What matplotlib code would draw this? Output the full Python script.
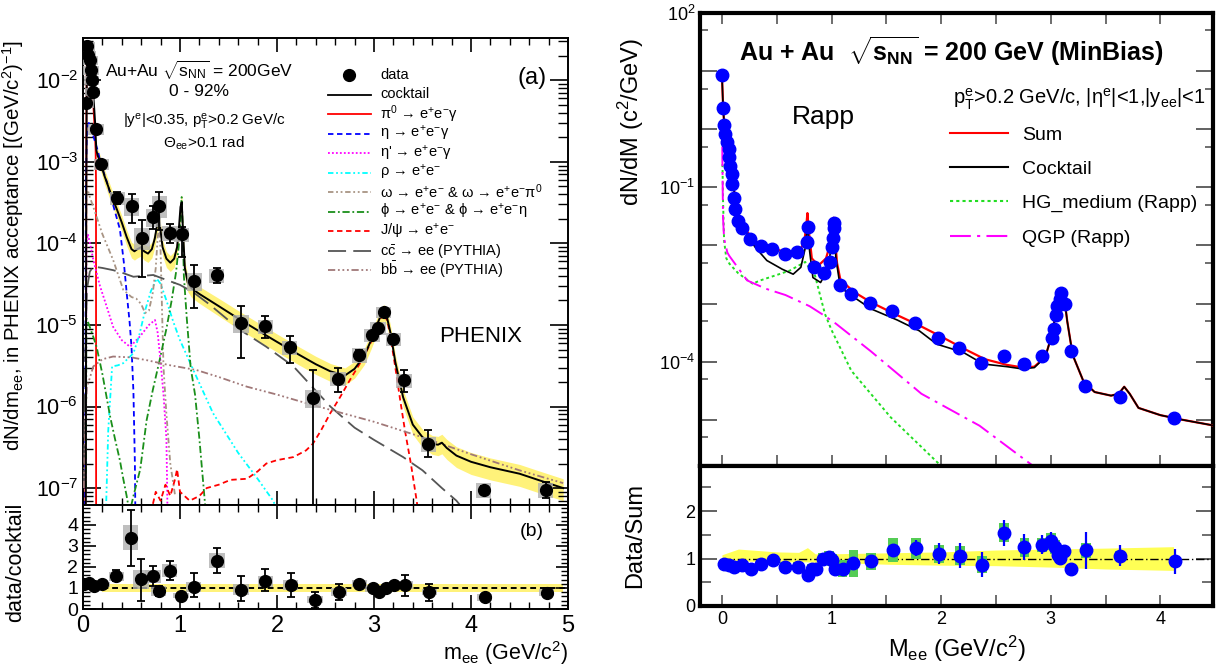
import numpy as np
import matplotlib
matplotlib.use('Agg')
import matplotlib.pyplot as plt
from matplotlib.ticker import FuncFormatter, MultipleLocator, LogLocator, NullFormatter
from matplotlib.lines import Line2D
from matplotlib.patches import Rectangle

plt.rcParams['font.family'] = ['Liberation Sans', 'DejaVu Sans']
plt.rcParams['mathtext.fontset'] = 'custom'
plt.rcParams['mathtext.rm'] = 'Liberation Sans'
plt.rcParams['mathtext.it'] = 'Liberation Sans:italic'
plt.rcParams['mathtext.bf'] = 'Liberation Sans:bold'

# ---------------- LEFT PANEL DATA (PHENIX) ----------------
phx_m = [0.035, 0.045, 0.055, 0.07, 0.085, 0.09, 0.10, 0.135, 0.19, 0.354, 0.50, 0.61, 0.725, 0.787,
         0.897, 1.017, 1.148, 1.378, 1.63, 1.88, 2.13, 2.37, 2.63, 2.85, 2.98, 3.04, 3.1, 3.2, 3.31,
         3.56, 4.13, 4.77]
phx_y = [5.2e-3, 2.6e-2, 2.05e-2, 1.76e-2, 1.32e-2, 1.0e-2, 7.2e-3, 2.5e-3, 9.3e-4, 3.6e-4, 2.9e-4,
         1.18e-4, 2.1e-4, 2.9e-4, 1.35e-4, 1.29e-4, 3.5e-5, 4.1e-5, 1.07e-5, 9.6e-6, 5.3e-6, 1.28e-6,
         2.2e-6, 4.3e-6, 7.6e-6, 9.3e-6, 1.45e-5, 6.8e-6, 2.1e-6, 3.5e-7, 9.5e-8, 9.5e-8]
phx_lo = [5.0e-3, 2.5e-2, 1.95e-2, 1.68e-2, 1.26e-2, 0.95e-2, 6.9e-3, 2.4e-3, 8.9e-4, 3.0e-4, 1.8e-4,
          3.9e-5, 1.5e-4, 1.45e-4, 1.0e-4, 6.9e-5, 1.6e-5, 3.3e-5, 3.9e-6, 7.0e-6, 3.4e-6, 1e-9,
          1.5e-6, 3.8e-6, 7.0e-6, 8.7e-6, 1.38e-5, 6.0e-6, 1.5e-6, 2.4e-7, 8.5e-8, 7.5e-8]
phx_hi = [5.4e-3, 2.7e-2, 2.15e-2, 1.84e-2, 1.38e-2, 1.05e-2, 7.5e-3, 2.6e-3, 9.7e-4, 4.3e-4, 4.0e-4,
          1.95e-4, 2.9e-4, 4.3e-4, 1.75e-4, 1.6e-4, 5.4e-5, 5.0e-5, 1.7e-5, 1.3e-5, 7.3e-6, 2.8e-6,
          3.0e-6, 4.9e-6, 8.2e-6, 9.9e-6, 1.52e-5, 7.6e-6, 2.8e-6, 5.2e-7, 1.05e-7, 1.2e-7]
phx_sys = [0.12, 0.12, 0.12, 0.12, 0.12, 0.12, 0.12, 0.15, 0.15, 0.18, 0.25, 0.3, 0.25, 0.3,
           0.2, 0.2, 0.25, 0.2, 0.25, 0.2, 0.2, 0.25, 0.2, 0.2, 0.18, 0.18, 0.15, 0.18, 0.2,
           0.22, 0.2, 0.2]

ratio_m = [0.008, 0.066, 0.116, 0.2, 0.343, 0.49, 0.6, 0.72, 0.78, 0.894, 1.01, 1.14, 1.38, 1.63,
           1.88, 2.14, 2.39, 2.64, 2.85, 2.99, 3.05, 3.12, 3.21, 3.32, 3.57, 4.14, 4.78]
ratio_y = [1.18, 1.25, 1.09, 1.18, 1.55, 3.4, 1.41, 1.55, 0.85, 1.82, 0.62, 1.05, 2.3, 0.92,
           1.32, 1.14, 0.45, 0.8, 1.21, 0.98, 0.8, 0.98, 1.13, 1.13, 0.8, 0.55, 0.78]
ratio_lo = [1.08, 1.18, 1.0, 1.1, 1.35, 2.05, 0.4, 1.1, 0.6, 1.4, 0.55, 0.55, 1.7, 0.4,
            0.86, 0.55, 0.05, 0.45, 1.12, 0.9, 0.74, 0.9, 0.98, 0.6, 0.4, 0.47, 0.58]
ratio_hi = [1.28, 1.32, 1.18, 1.26, 1.88, 4.7, 2.4, 2.05, 1.1, 2.3, 0.7, 1.7, 2.9, 1.55,
            1.9, 1.7, 0.82, 1.2, 1.3, 1.06, 0.86, 1.06, 1.3, 1.6, 1.2, 0.63, 1.0]
ratio_sys = [0.12, 0.12, 0.12, 0.12, 0.2, 0.6, 0.45, 0.3, 0.25, 0.3, 0.12, 0.25, 0.35, 0.25,
             0.25, 0.25, 0.15, 0.2, 0.18, 0.15, 0.12, 0.12, 0.15, 0.18, 0.15, 0.15, 0.15]

# cocktail components
cock_m = [0.028, 0.033, 0.038, 0.045, 0.055, 0.065, 0.075, 0.085, 0.095, 0.105, 0.115, 0.125, 0.132,
          0.138, 0.15, 0.17, 0.19, 0.22, 0.26, 0.3, 0.35, 0.4, 0.45, 0.5, 0.53, 0.56, 0.6, 0.63, 0.67,
          0.71, 0.74, 0.765, 0.78, 0.795, 0.82, 0.86, 0.9, 0.94, 0.97, 0.99, 1.005, 1.018, 1.03, 1.05,
          1.08, 1.12, 1.2, 1.4, 1.6, 1.8, 2.0, 2.2, 2.4, 2.55, 2.7, 2.8, 2.9, 2.97, 3.03, 3.07, 3.1,
          3.13, 3.17, 3.22, 3.3, 3.4, 3.5, 3.6, 3.66, 3.7, 3.75, 3.85, 4.0, 4.2, 4.5, 4.7, 4.95]
cock_y = [1e-8, 2e-4, 8e-3, 0.026, 0.027, 0.022, 0.017, 0.013, 0.0095, 0.0068, 0.0046, 0.003, 0.0019,
          0.0014, 0.0012, 0.00105, 0.0009, 0.00068, 0.0005, 0.00037, 0.00026, 0.00018, 0.00012, 8.5e-5,
          8e-5, 8.5e-5, 9e-5, 8e-5, 7.5e-5, 8.5e-5, 1.15e-4, 1.7e-4, 2.0e-4, 1.6e-4, 9e-5, 6.5e-5,
          5.8e-5, 6.5e-5, 9e-5, 1.6e-4, 2.8e-4, 3.2e-4, 1.5e-4, 5e-5, 3.3e-5, 2.8e-5, 2.4e-5, 1.7e-5,
          1.2e-5, 8.6e-6, 6.2e-6, 4.5e-6, 3.3e-6, 2.7e-6, 2.4e-6, 2.9e-6, 4.2e-6, 6.5e-6, 1.0e-5,
          1.3e-5, 1.45e-5, 1.3e-5, 8e-6, 3.5e-6, 1.3e-6, 6e-7, 4.2e-7, 3.5e-7, 3.4e-7, 3.6e-7, 3.1e-7,
          2.5e-7, 2.1e-7, 1.8e-7, 1.5e-7, 1.25e-7, 1.0e-7]
cock_band_m = [0.15, 0.5, 1.0, 1.5, 2.0, 2.5, 3.0, 3.5, 4.0, 4.5, 4.95]
cock_band_rel = [0.2, 0.22, 0.22, 0.25, 0.25, 0.25, 0.22, 0.25, 0.3, 0.3, 0.3]

pi0_m = [0.02, 0.03, 0.035, 0.04, 0.05, 0.06, 0.07, 0.08, 0.09, 0.1, 0.11, 0.12, 0.13, 0.134, 0.1355]
pi0_y = [1e-8, 1e-6, 3e-3, 0.024, 0.025, 0.02, 0.016, 0.012, 0.0095, 0.0065, 0.0042, 0.0026, 0.0014,
         6e-4, 1e-8]
eta_m = [0.02, 0.03, 0.04, 0.06, 0.1, 0.15, 0.19, 0.25, 0.3, 0.35, 0.38, 0.42, 0.45, 0.48, 0.5,
         0.52, 0.535, 0.545]
eta_y = [1e-8, 5e-4, 2.5e-3, 3e-3, 2.2e-3, 1.4e-3, 9e-4, 5.5e-4, 3.3e-4, 2e-4, 1.5e-4, 6e-5,
         2.5e-5, 1.1e-5, 5.4e-6, 1.5e-6, 2e-7, 1e-8]
etap_m = [0.03, 0.035, 0.05, 0.08, 0.106, 0.175, 0.25, 0.31, 0.4, 0.485, 0.59, 0.68, 0.742, 0.77,
          0.8, 0.83, 0.86, 0.88]
etap_y = [1e-7, 1e-4, 1.3e-4, 9e-5, 6.3e-5, 3e-5, 1.6e-5, 9.5e-6, 6.5e-6, 5.4e-6, 7.3e-6, 1e-5,
          1.15e-5, 8e-6, 3.5e-6, 1.4e-6, 4e-7, 1e-8]
rho_m = [0.22, 0.26, 0.3, 0.36, 0.415, 0.52, 0.58, 0.64, 0.7, 0.76, 0.8, 0.86, 0.93, 1.0, 1.15,
         1.34, 1.6, 1.8, 1.96, 2.05]
rho_y = [1e-8, 5e-7, 3.1e-6, 3.2e-6, 3.4e-6, 4.5e-6, 7.5e-6, 1.5e-5, 2.6e-5, 3.7e-5, 3.2e-5, 2e-5,
         1.1e-5, 6.5e-6, 2.6e-6, 8.3e-7, 2.7e-7, 1.3e-7, 7e-8, 4e-8]
omega_m = [0.03, 0.035, 0.05, 0.07, 0.106, 0.2, 0.31, 0.415, 0.5, 0.55, 0.6, 0.64, 0.68, 0.72, 0.75,
           0.77, 0.785, 0.8, 0.815, 0.83, 0.86, 0.9, 0.95]
omega_y = [1e-7, 4e-4, 4.5e-4, 3.7e-4, 2.8e-4, 1.3e-4, 6.3e-5, 2.7e-5, 2.2e-5, 2.1e-5, 1.8e-5,
           1.4e-5, 1.5e-5, 2.5e-5, 5e-5, 1.2e-4, 1.6e-4, 8e-5, 1.5e-5, 3e-6, 8e-7, 2e-7, 8e-8]
phi_m = [0.03, 0.035, 0.05, 0.1, 0.14, 0.2, 0.28, 0.33, 0.38, 0.415, 0.45, 0.48, 0.52, 0.59, 0.656,
         0.72, 0.79, 0.86, 0.914, 0.96, 0.99, 1.005, 1.017, 1.025, 1.04, 1.07, 1.11, 1.155, 1.2, 1.26]
phi_y = [1e-7, 1.2e-5, 1.1e-5, 7.5e-6, 5.4e-6, 2.5e-6, 7.5e-7, 4e-7, 2.2e-7, 1.3e-7, 8e-8, 5e-8,
         8e-8, 1.7e-7, 6.8e-7, 1.6e-6, 3.7e-6, 9e-6, 2e-5, 4.5e-5, 1e-4, 2e-4, 3.7e-4, 2e-4, 4e-5,
         1.2e-5, 3e-6, 1.4e-6, 4e-7, 6e-8]
jpsi_m = [0.7, 0.75, 0.8, 0.85, 0.9, 0.95, 0.97, 1.0, 1.1, 1.2, 1.275, 1.4, 1.52, 1.69, 1.8, 1.89,
          2.0, 2.17, 2.3, 2.37, 2.45, 2.55, 2.65, 2.75, 2.85, 2.95, 3.0, 3.05, 3.1, 3.14, 3.18, 3.22,
          3.27, 3.32, 3.38, 3.44, 3.48]
jpsi_y = [5e-8, 9e-8, 7e-8, 1.1e-7, 8e-8, 1.3e-7, 1.7e-7, 9e-8, 7e-8, 8e-8, 1e-7, 1.1e-7, 1.26e-7,
          1.3e-7, 1.6e-7, 2e-7, 2.2e-7, 2.4e-7, 2.9e-7, 3.5e-7, 5e-7, 8.3e-7, 1.3e-6, 2.1e-6, 3.3e-6,
          5.5e-6, 7.5e-6, 1.1e-5, 1.4e-5, 1.1e-5, 6e-6, 3e-6, 1.2e-6, 5e-7, 2e-7, 7e-8, 3e-8]
ccbar_m = [0.01, 0.02, 0.04, 0.07, 0.106, 0.2, 0.31, 0.42, 0.52, 0.62, 0.725, 0.85, 1.0, 1.14, 1.3,
           1.62, 1.89, 2.17, 2.55, 2.8, 3.0, 3.3, 3.5, 3.7, 3.85, 3.95]
ccbar_y = [1e-7, 3e-6, 2.7e-5, 4.5e-5, 5.2e-5, 5e-5, 4.7e-5, 4.3e-5, 3.9e-5, 4e-5, 4.1e-5, 3.6e-5,
           3.1e-5, 2.5e-5, 1.8e-5, 8.7e-6, 5.4e-6, 3.1e-6, 1e-6, 5.5e-7, 3.9e-7, 2.4e-7, 1.65e-7,
           1e-7, 7e-8, 5e-8]
bbbar_m = [0.01, 0.02, 0.04, 0.106, 0.2, 0.31, 0.5, 0.656, 0.9, 1.17, 1.4, 1.69, 2.0, 2.3, 2.55, 3.0,
           3.5, 4.0, 4.5, 4.95]
bbbar_y = [1e-7, 5e-7, 1.7e-6, 3.1e-6, 3.8e-6, 4.1e-6, 4e-6, 3.7e-6, 3.2e-6, 2.8e-6, 2.3e-6,
           1.75e-6, 1.4e-6, 1.1e-6, 9.1e-7, 6.5e-7, 4.2e-7, 2.6e-7, 1.65e-7, 1.15e-7]

# ---------------- RIGHT PANEL DATA (Rapp comparison) ----------------
rd_m = [0.0, 0.011, 0.018, 0.032, 0.046, 0.06, 0.067, 0.078, 0.088, 0.095, 0.106, 0.117, 0.148,
        0.187, 0.254, 0.353, 0.456, 0.572, 0.689, 0.774, 0.781, 0.84, 0.929, 0.982, 1.0, 1.014,
        1.021, 1.025, 1.078, 1.18, 1.35, 1.55, 1.76, 1.975, 2.16, 2.36, 2.57, 2.76, 2.92, 3.01,
        3.025, 3.05, 3.06, 3.08, 3.095, 3.13, 3.18, 3.31, 3.63, 4.12]
rd_y = [8.5, 2.35, 1.2, 0.83, 0.6, 0.46, 0.33, 0.23, 0.168, 0.112, 0.066, 0.043, 0.026, 0.020,
        0.0131, 0.0099, 0.0088, 0.0071, 0.0076, 0.0114, 0.021, 0.0043, 0.0034, 0.0051, 0.0095,
        0.0135, 0.0245, 0.020, 0.0021, 0.00146, 0.00102, 0.00073, 0.00046, 0.00026, 0.000172,
        9.5e-5, 1.27e-4, 9.1e-5, 1.27e-4, 2.6e-4, 3.7e-4, 6.4e-4, 9.2e-4, 1.2e-3, 1.5e-3, 9.8e-4,
        1.5e-4, 3.8e-5, 2.5e-5, 1.07e-5]
rd_sys = [0.06] * 28 + [0.12, 0.2, 0.15, 0.2, 0.18, 0.15, 0.18, 0.15, 0.12, 0.12, 0.1, 0.1,
                         0.1, 0.1, 0.1, 0.1, 0.1, 0.1, 0.1, 0.1, 0.1, 0.1]

sum_m = [0.0, 0.01, 0.02, 0.03, 0.05, 0.07, 0.09, 0.11, 0.13, 0.15, 0.2, 0.3, 0.4, 0.5, 0.6, 0.7,
         0.75, 0.77, 0.78, 0.79, 0.82, 0.88, 0.95, 0.99, 1.01, 1.02, 1.03, 1.05, 1.08, 1.2, 1.36, 1.6,
         1.8, 2.0, 2.2, 2.4, 2.6, 2.75, 2.85, 2.95, 3.0, 3.05, 3.08, 3.1, 3.12, 3.15, 3.2, 3.3, 3.4,
         3.55, 3.62, 3.67, 3.72, 3.8, 4.0, 4.2, 4.48]
sum_y = [9.0, 2.6, 1.25, 0.85, 0.5, 0.28, 0.17, 0.09, 0.05, 0.03, 0.02, 0.012, 0.0095, 0.0085,
         0.0075, 0.0078, 0.011, 0.022, 0.036, 0.02, 0.006, 0.0045, 0.006, 0.011, 0.022, 0.03, 0.015,
         0.005, 0.0026, 0.0016, 0.00105, 0.00063, 0.00042, 0.00027, 0.00017, 0.00011, 8.8e-5,
         7.9e-5, 8.2e-5, 1.2e-4, 2.5e-4, 7e-4, 1.3e-3, 1.6e-3, 1.4e-3, 5e-4, 1.3e-4, 4.5e-5, 3.0e-5,
         2.6e-5, 2.8e-5, 3.7e-5, 2.8e-5, 1.6e-5, 1.2e-5, 1e-5, 8e-6]
cockR_m = [0.0, 0.01, 0.02, 0.03, 0.05, 0.07, 0.09, 0.11, 0.13, 0.15, 0.2, 0.3, 0.41, 0.55, 0.65,
           0.72, 0.76, 0.78, 0.8, 0.83, 0.9, 0.97, 1.0, 1.02, 1.04, 1.08, 1.2, 1.36, 1.6, 1.8, 1.96,
           2.2, 2.385, 2.6, 2.74, 2.85, 2.95, 3.0, 3.05, 3.08, 3.1, 3.12, 3.15, 3.2, 3.3, 3.4, 3.55,
           3.62, 3.67, 3.72, 3.8, 4.0, 4.2, 4.48]
cockR_y = [9.0, 2.6, 1.25, 0.85, 0.5, 0.28, 0.17, 0.09, 0.05, 0.03, 0.019, 0.0095, 0.0055, 0.0039,
           0.0032, 0.0042, 0.009, 0.022, 0.008, 0.0028, 0.0023, 0.004, 0.011, 0.02, 0.006, 0.0019,
           0.0013, 0.00081, 0.00052, 0.00034, 0.0002, 0.000145, 9.1e-5, 8.2e-5, 7.5e-5, 7.9e-5,
           1.2e-4, 2.5e-4, 7e-4, 1.3e-3, 1.6e-3, 1.4e-3, 5e-4, 1.3e-4, 4.5e-5, 3.0e-5, 2.6e-5,
           2.8e-5, 3.7e-5, 2.8e-5, 1.6e-5, 1.2e-5, 1e-5, 8e-6]
hg_m = [0.005, 0.01, 0.02, 0.04, 0.07, 0.15, 0.28, 0.35, 0.5, 0.62, 0.7, 0.76, 0.8, 0.85, 0.94,
        1.0, 1.18, 1.54, 2.0]
hg_y = [0.25, 0.06, 0.012, 0.006, 0.0048, 0.0033, 0.0022, 0.0025, 0.0031, 0.0037, 0.0045, 0.0052,
        0.004, 0.003, 0.00066, 0.00035, 7e-5, 1.1e-5, 1.6e-6]
qgp_m = [0.003, 0.01, 0.02, 0.05, 0.07, 0.23, 0.4, 0.58, 0.8, 0.94, 1.04, 1.36, 1.82, 2.35, 2.84]
qgp_y = [0.5, 0.03, 0.013, 0.0075, 0.0065, 0.0025, 0.0018, 0.0014, 0.0009, 0.00061, 0.00045,
         0.00015, 2.8e-5, 7.9e-6, 1.6e-6]

rr_m = [0.018, 0.067, 0.113, 0.183, 0.265, 0.36, 0.462, 0.578, 0.695, 0.787, 0.825, 0.854, 0.924,
        0.977, 1.005, 1.03, 1.10, 1.20, 1.36, 1.56, 1.77, 1.98, 2.17, 2.37, 2.57, 2.76, 2.92, 3.005,
        3.04, 3.065, 3.086, 3.12, 3.18, 3.32, 3.63, 4.13]
rr_y = [0.89, 0.865, 0.83, 0.865, 0.79, 0.89, 0.97, 0.82, 0.83, 0.65, 0.79, 0.77, 1.0, 1.04, 0.97,
        0.79, 0.79, 0.9, 0.94, 1.18, 1.22, 1.1, 1.06, 0.87, 1.54, 1.24, 1.29, 1.36, 1.24, 1.08, 1.01,
        1.15, 0.78, 1.17, 1.06, 0.94]
rr_stat = [0.03, 0.03, 0.03, 0.03, 0.03, 0.04, 0.05, 0.05, 0.05, 0.06, 0.05, 0.05, 0.06, 0.06, 0.06,
           0.06, 0.06, 0.08, 0.08, 0.12, 0.17, 0.22, 0.26, 0.26, 0.28, 0.28, 0.2, 0.2, 0.12, 0.1, 0.1,
           0.1, 0.08, 0.38, 0.22, 0.26]
rr_sys = [0.06, 0.06, 0.06, 0.06, 0.06, 0.07, 0.08, 0.1, 0.1, 0.1, 0.1, 0.1, 0.12, 0.12, 0.12,
          0.12, 0.18, 0.28, 0.18, 0.25, 0.22, 0.19, 0.2, 0.18, 0.2, 0.2, 0.15, 0.17, 0.15, 0.12, 0.1,
          0.1, 0.08, 0.15, 0.1, 0.1]
rband_m = [0.0, 0.15, 0.5, 0.7, 0.78, 0.85, 1.0, 1.5, 2.0, 2.5, 3.0, 3.5, 4.12]
rband_hi = [1.08, 1.2, 1.14, 1.13, 1.23, 1.1, 1.1, 1.12, 1.14, 1.18, 1.2, 1.22, 1.25]
rband_lo = [0.95, 0.95, 0.93, 0.93, 0.93, 0.92, 0.92, 0.88, 0.86, 0.85, 0.82, 0.78, 0.75]

# ---------------- FIGURE ----------------
fig = plt.figure(figsize=(12.26, 6.66), dpi=100)
W, H = 1226.0, 666.0


def box(x0, y0, x1, y1):
    return [x0 / W, 1 - y1 / H, (x1 - x0) / W, (y1 - y0) / H]


axL = fig.add_axes(box(83, 38, 568, 505))
axLr = fig.add_axes(box(83, 505, 568, 609))
axR = fig.add_axes(box(700, 13, 1213, 466))
axRr = fig.add_axes(box(700, 466, 1213, 606))

# ---- left top ----
ax = axL
ax.set_yscale('log')
ax.set_xlim(0, 5)
ax.set_ylim(6.2e-8, 3.3e-2)
bm = np.array(cock_m)
by = np.array(cock_y)
bandrel = np.interp(bm, cock_band_m, cock_band_rel)
sel = bm >= 0.15
ax.fill_between(bm[sel], by[sel] * (1 - bandrel[sel]), by[sel] * (1 + bandrel[sel]),
                color='#fff27a', lw=0, zorder=1)
dd = (0, (3, 1.5, 1, 1.5, 1, 1.5))
styles = [
    dict(color='red', lw=1.3, ls='-'),
    dict(color='blue', lw=1.3, ls=(0, (3, 2))),
    dict(color='magenta', lw=1.3, ls=(0, (1, 1.2))),
    dict(color='cyan', lw=1.3, ls=dd),
    dict(color='#a89484', lw=1.3, ls=dd),
    dict(color='#1a8f1a', lw=1.3, ls=(0, (4, 1.5, 1, 1.5))),
    dict(color='red', lw=1.3, ls=(0, (3, 2))),
    dict(color='#555555', lw=1.3, ls=(0, (10, 4))),
    dict(color='#a07878', lw=1.3, ls=(0, (4, 1.5, 1, 1.5, 1, 1.5, 1, 1.5))),
]
curves = [(pi0_m, pi0_y), (eta_m, eta_y), (etap_m, etap_y), (rho_m, rho_y), (omega_m, omega_y),
          (phi_m, phi_y), (jpsi_m, jpsi_y), (ccbar_m, ccbar_y), (bbbar_m, bbbar_y)]
for (cm, cy), st in zip(curves, styles):
    ax.plot(cm, cy, zorder=3, **st)
ax.plot(cock_m, cock_y, color='black', lw=1.4, zorder=4)
for m, y, s in zip(phx_m, phx_y, phx_sys):
    ax.add_patch(Rectangle((m - 0.08, y * (1 - s)), 0.16, y * (1 + s) - y * (1 - s),
                           facecolor='#b0b0b0', edgecolor='none', alpha=0.8, hatch='....', zorder=5))
py = np.array(phx_y)
ax.errorbar(phx_m, phx_y, yerr=[py - np.array(phx_lo), np.array(phx_hi) - py], fmt='o',
            color='black', ms=8.5, capsize=3, elinewidth=1.3, capthick=1.3, zorder=6)
ax.yaxis.set_major_locator(LogLocator(base=10, numticks=20))
ax.yaxis.set_minor_locator(LogLocator(base=10, subs=np.arange(2, 10), numticks=20))
ax.yaxis.set_minor_formatter(NullFormatter())
ax.xaxis.set_major_locator(MultipleLocator(1))
ax.xaxis.set_minor_locator(MultipleLocator(0.2))
ax.tick_params(axis='both', which='both', direction='in', top=True, right=True, labelbottom=False)
ax.tick_params(axis='y', which='major', length=13, width=1.2, labelsize=15.5)
ax.tick_params(axis='y', which='minor', length=7, width=1.0)
ax.tick_params(axis='x', which='major', length=10, width=1.2)
ax.tick_params(axis='x', which='minor', length=5, width=1.0)
for sp in ax.spines.values():
    sp.set_linewidth(1.4)
ax.set_ylabel(r'dN/dm$_{\mathrm{ee}}$, in PHENIX acceptance [(GeV/c$^{2}$)$^{-1}$]', fontsize=14.8)
ax.yaxis.set_label_coords(-0.118, 0.555)
ax.text(0.24, 0.93, r'Au+Au $\sqrt{\mathrm{s}_{\mathrm{NN}}}$ = 200GeV', transform=ax.transAxes,
        fontsize=12.5, ha='center', va='center')
ax.text(0.24, 0.885, '0 - 92%', transform=ax.transAxes, fontsize=12.5, ha='center', va='center')
ax.text(0.25, 0.82, r'|y$^{\mathrm{e}}$|<0.35, p$_{\mathrm{T}}^{\mathrm{e}}$>0.2 GeV/c',
        transform=ax.transAxes, fontsize=11, ha='center', va='center')
ax.text(0.25, 0.775, r'$\Theta_{\mathrm{ee}}$>0.1 rad', transform=ax.transAxes, fontsize=11,
        ha='center', va='center')
ax.text(0.925, 0.915, '(a)', transform=ax.transAxes, fontsize=17, ha='center', va='center')
ax.text(0.82, 0.36, 'PHENIX', transform=ax.transAxes, fontsize=16, ha='center', va='center')

# manual legend (fixed row pitch like the original)
labels = ['data', 'cocktail', r'π$^{0}$ → e$^{+}$e$^{-}$γ', r'η → e$^{+}$e$^{-}$γ',
          r"η' → e$^{+}$e$^{-}$γ", r'ρ → e$^{+}$e$^{-}$',
          r'ω → e$^{+}$e$^{-}$ & ω → e$^{+}$e$^{-}$π$^{0}$',
          r'ϕ → e$^{+}$e$^{-}$ & ϕ → e$^{+}$e$^{-}$η', r'J/ψ → e$^{+}$e$^{-}$',
          r'c$\bar{\mathrm{c}}$ → ee (PYTHIA)', r'b$\bar{\mathrm{b}}$ → ee (PYTHIA)']
leg_styles = [None, dict(color='black', lw=1.3, ls='-')] + styles


def axx(px):
    return (px - 83) / 485.0


def axy(py_):
    return (505 - py_) / 467.0


for i, (lab, st) in enumerate(zip(labels, leg_styles)):
    yy = axy(75 + 19.5 * i)
    if st is None:
        ax.plot([axx(349)], [yy], 'o', color='black', ms=8.5, transform=ax.transAxes,
                clip_on=False, zorder=10)
    else:
        ax.plot([axx(328), axx(371)], [yy, yy], transform=ax.transAxes, clip_on=False, zorder=10,
                **st)
    ax.text(axx(380), yy, lab, transform=ax.transAxes, fontsize=10.5, ha='left', va='center',
            zorder=10)

# ---- left ratio ----
ax = axLr
ax.set_xlim(0, 5)
ax.set_ylim(0, 4.95)
ax.fill_between([0.2, 4.95], [0.82, 0.82], [1.18, 1.18], color='#fff27a', lw=0, zorder=1)
ax.plot([0, 5], [1, 1], color='black', ls=(0, (3, 2)), lw=1.4, zorder=2)
for m, y, s in zip(ratio_m, ratio_y, ratio_sys):
    ax.add_patch(Rectangle((m - 0.08, y - s), 0.16, 2 * s, facecolor='#b0b0b0', edgecolor='none',
                           alpha=0.8, hatch='....', zorder=3))
ry = np.array(ratio_y)
ax.errorbar(ratio_m, ratio_y, yerr=[ry - np.array(ratio_lo), np.array(ratio_hi) - ry], fmt='o',
            color='black', ms=8.5, capsize=3, elinewidth=1.3, capthick=1.3, zorder=5)
ax.xaxis.set_major_locator(MultipleLocator(1))
ax.xaxis.set_minor_locator(MultipleLocator(0.2))
ax.yaxis.set_major_locator(MultipleLocator(1))
ax.yaxis.set_minor_locator(MultipleLocator(0.2))
ax.tick_params(axis='both', which='both', direction='in', top=True, right=True)
ax.tick_params(axis='x', which='major', labelsize=17, length=10, width=1.2, pad=4)
ax.tick_params(axis='y', which='major', labelsize=14, length=9, width=1.2)
ax.tick_params(axis='x', which='minor', length=5, width=1.0)
ax.tick_params(axis='y', which='minor', length=5, width=1.0)
for sp in ax.spines.values():
    sp.set_linewidth(1.4)
ax.set_ylabel('data/cocktail', fontsize=15.5)
ax.yaxis.set_label_coords(-0.118, 0.45)
ax.set_xlabel(r'm$_{\mathrm{ee}}$ (GeV/c$^{2}$)', fontsize=15.5, loc='right', labelpad=2)
ax.text(0.925, 0.75, '(b)', transform=ax.transAxes, fontsize=14, ha='center', va='center')

# ---- right top ----
ax = axR
ax.set_yscale('log')
ax.set_xlim(-0.2, 4.48)
ax.set_ylim(1.6e-6, 100)
ax.plot(hg_m, hg_y, color='#22dd22', lw=1.4, ls=(0, (1.5, 1.5)), zorder=2)
ax.plot(qgp_m, qgp_y, color='magenta', lw=1.4, ls=(0, (10, 3, 1.5, 3)), zorder=2)
ax.plot(sum_m, sum_y, color='red', lw=1.6, zorder=3)
ax.plot(cockR_m, cockR_y, color='black', lw=1.2, zorder=3)
for m, y, s in zip(rd_m, rd_y, rd_sys):
    ax.add_patch(Rectangle((m - 0.04, y * (1 - s)), 0.08, y * (1 + s) - y * (1 - s),
                           facecolor='#55cc55', edgecolor='none', zorder=4))
ax.plot(rd_m, rd_y, 'o', color='blue', ms=9, zorder=5)
ax.yaxis.set_major_locator(LogLocator(base=10, numticks=20))
ax.yaxis.set_minor_locator(LogLocator(base=10, subs=[5], numticks=20))
ax.yaxis.set_minor_formatter(NullFormatter())


def rfmt(v, pos):
    e = int(round(np.log10(v)))
    if e in (2, -1, -4):
        return r'$\mathregular{10^{%d}}$' % e
    return ''


ax.yaxis.set_major_formatter(FuncFormatter(rfmt))
ax.xaxis.set_major_locator(MultipleLocator(1))
ax.xaxis.set_minor_locator(MultipleLocator(0.5))
ax.tick_params(axis='both', which='both', direction='in', top=True, right=True, labelbottom=False,
               color='#555555')
ax.tick_params(axis='y', which='major', length=12, width=1.3, labelsize=13)
ax.tick_params(axis='y', which='minor', length=6, width=1.2)
ax.tick_params(axis='x', which='both', length=8, width=1.2)
for sp in ax.spines.values():
    sp.set_linewidth(3)
ax.set_ylabel(r'dN/dM (c$^{2}$/GeV)', fontsize=17)
ax.yaxis.set_label_coords(-0.105, 0.76)
ax.text(0.49, 0.915, r'Au + Au  $\sqrt{\mathbf{s}_{\mathbf{NN}}}$ = 200 GeV (MinBias)',
        transform=ax.transAxes, fontsize=18, fontweight='bold', ha='center', va='center')
ax.text(0.985, 0.81,
        r'p$_{\mathrm{T}}^{\mathrm{e}}$>0.2 GeV/c, |η$^{\mathrm{e}}$|<1,|y$_{\mathrm{ee}}$|<1',
        transform=ax.transAxes, fontsize=14.5, ha='right', va='center')
ax.text(0.24, 0.77, 'Rapp', transform=ax.transAxes, fontsize=19, ha='center', va='center')
hR = [Line2D([], [], color='red', lw=1.5), Line2D([], [], color='black', lw=1.5),
      Line2D([], [], color='#22dd22', lw=1.5, ls=(0, (1.5, 1.5))),
      Line2D([], [], color='magenta', lw=1.5, ls=(0, (10, 3, 1.5, 3)))]
lR = ['Sum', 'Cocktail', 'HG_medium (Rapp)', 'QGP (Rapp)']
legR = ax.legend(hR, lR, loc='upper left', bbox_to_anchor=((950 - 700) / 513, (466 - 126) / 453),
                 frameon=False, fontsize=14, handlelength=3.0, handletextpad=0.7,
                 labelspacing=0.86, borderaxespad=0, borderpad=0)

# ---- right ratio ----
ax = axRr
ax.set_xlim(-0.2, 4.48)
ax.set_ylim(0, 2.95)
ax.fill_between(rband_m, rband_lo, rband_hi, color='#ffff55', lw=0, zorder=1)
ax.plot([0, 4.48], [1, 1], color='black', lw=1.0, ls=(0, (6, 2, 1, 2)), zorder=2)
for m, y, s in zip(rr_m, rr_y, rr_sys):
    ax.add_patch(Rectangle((m - 0.045, y - s), 0.09, 2 * s, facecolor='#55cc55', edgecolor='none',
                           zorder=3))
ax.errorbar(rr_m, rr_y, yerr=rr_stat, fmt='o', color='blue', ms=9, elinewidth=1.6, capsize=0,
            zorder=5)
ax.xaxis.set_major_locator(MultipleLocator(1))
ax.xaxis.set_minor_locator(MultipleLocator(0.5))
ax.yaxis.set_major_locator(MultipleLocator(1))
ax.yaxis.set_minor_locator(MultipleLocator(0.5))
ax.tick_params(axis='both', which='both', direction='in', right=True, color='#555555')
ax.tick_params(axis='both', which='major', labelsize=13)
ax.tick_params(axis='y', which='major', length=12, width=1.3)
ax.tick_params(axis='y', which='minor', length=8, width=1.2)
ax.tick_params(axis='x', which='both', length=8, width=1.2)
for sp in ax.spines.values():
    sp.set_linewidth(3)
ax.set_ylabel('Data/Sum', fontsize=17)
ax.yaxis.set_label_coords(-0.105, 0.5)
ax.set_xlabel(r'M$_{\mathrm{ee}}$ (GeV/c$^{2}$)', fontsize=17, labelpad=4)

fig.savefig('out.png', dpi=100)
